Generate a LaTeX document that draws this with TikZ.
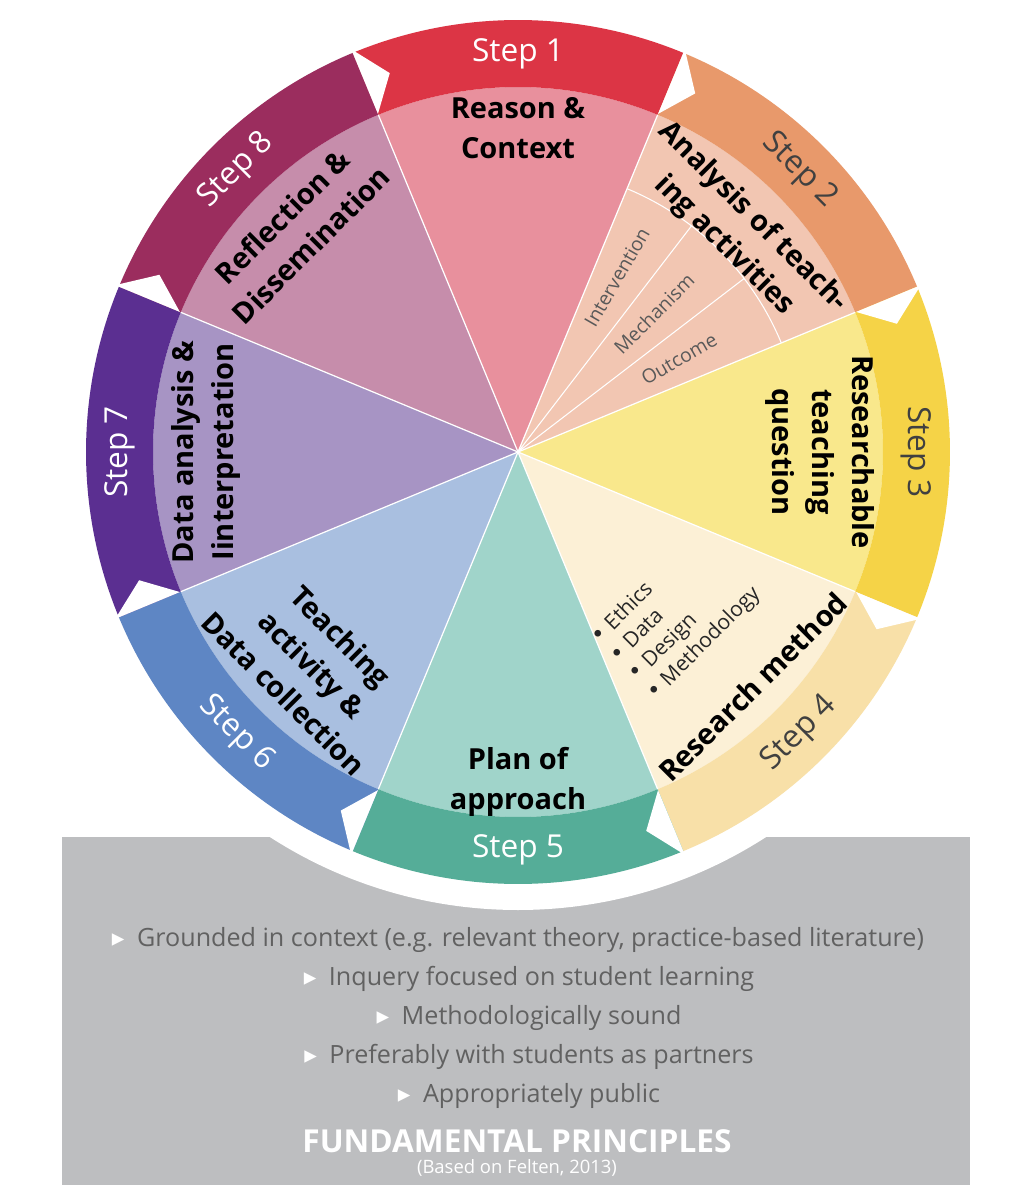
\documentclass[tikz,border=0pt]{standalone}
\usepackage{fontspec}
\setmainfont{Open Sans}
\newfontfamily\dejavu{DejaVu Sans}
\newcommand{\bul}{{\dejavu\fontsize{13}{15}\selectfont •}\ }
\begin{document}
\begin{tikzpicture}[x=0.02cm,y=0.02cm,
  inlab/.style={font=\bfseries\fontsize{16.5}{23}\selectfont, align=center, text=black, inner sep=0},
  steplab/.style={font=\fontsize{18}{20}\selectfont, inner sep=0},
  sublab/.style={font=\fontsize{11}{13}\selectfont, text=black!65, inner sep=0},
  bl/.style={font=\fontsize{14.3}{16}\selectfont, text=black!62, inner sep=0},
]
\definecolor{rA}{HTML}{DC3545}\definecolor{iA}{HTML}{E8909D}
\definecolor{rB}{HTML}{E8996B}\definecolor{iB}{HTML}{F2C6B2}
\definecolor{rC}{HTML}{F5D347}\definecolor{iC}{HTML}{F9E88C}
\definecolor{rD}{HTML}{F8E0A8}\definecolor{iD}{HTML}{FCF0D6}
\definecolor{rE}{HTML}{55AD98}\definecolor{iE}{HTML}{A0D4CA}
\definecolor{rF}{HTML}{5E86C4}\definecolor{iF}{HTML}{A9BFE0}
\definecolor{rG}{HTML}{5B2F91}\definecolor{iG}{HTML}{A794C4}
\definecolor{rH}{HTML}{9B2D5E}\definecolor{iH}{HTML}{C68DAB}
\definecolor{boxgray}{HTML}{BDBEC0}
\useasboundingbox (-518,452) rectangle (495,-748);
% gray box with circular cutout
\fill[boxgray] (-456,-385) rectangle (452,-733);
\fill[white] (0,0) circle (458);
% sectors
\foreach \k/\r/\i in {1/rA/iA,2/rB/iB,3/rC/iC,4/rD/iD,5/rE/iE,6/rF/iF,7/rG/iG,8/rH/iH}{
  \pgfmathsetmacro{\c}{90-45*(\k-1)}
  \pgfmathsetmacro{\a}{\c+22.5}
  \pgfmathsetmacro{\b}{\c-22.5}
  \fill[\i] (0,0) -- (\a:365) arc[start angle=\a,end angle=\b,radius=365] -- cycle;
  \fill[\r] (\a:365) arc[start angle=\a,end angle=\b,radius=365] -- (\b:432) arc[start angle=\b,end angle=\a,radius=432] -- cycle;
}
\foreach \k in {1,...,8}{
  \pgfmathsetmacro{\a}{112.5-45*(\k-1)}
  \draw[white, line width=0.7pt] (0,0) -- (\a:365);
  \fill[white] (\a:366) -- (\a:436) -- (\a-3.8:400) -- cycle;
}
% step 2 subdivisions
\draw[white, line width=0.6pt] (67.5:285) arc[start angle=67.5,end angle=22.5,radius=285];
\draw[white, line width=0.6pt] (0,0) -- (52.5:285) (0,0) -- (37.5:285);
% step labels
\node[steplab, text=white, rotate=0] (s1) at (90:398) {Step 1};
\node[steplab, text=black!75, rotate=-45] (s2) at (45:398) {Step 2};
\node[steplab, text=black!75, rotate=-90] (s3) at (0:398) {Step 3};
\node[steplab, text=black!75, rotate=45] (s4) at (-45:398) {Step 4};
\node[steplab, text=white, rotate=0] (s5) at (-90:398) {Step 5};
\node[steplab, text=white, rotate=-45] (s6) at (-135:398) {Step 6};
\node[steplab, text=white, rotate=90] (s7) at (180:398) {Step 7};
\node[steplab, text=white, rotate=45] (s8) at (135:398) {Step 8};
% inner labels
\node[inlab] (t1) at (90:324) {Reason \&\\Context};
\node[inlab, rotate=-45] (t2) at (45:312) {Analysis of teach-\\ing activities};
\node[inlab, rotate=-90] (t3) at (0:302) {Researchable\\teaching\\question};
\node[inlab, rotate=45] (t4) at (-45:332) {Research method};
\node[inlab] (t5) at (-90:330) {Plan of\\approach};
\node[inlab, rotate=-45] (t6) at (-134:296) {Teaching\\activity \&\\Data collection};
\node[inlab, rotate=90] (t7) at (180:312) {Data analysis \&\\Iinterpretation};
\node[inlab, rotate=45] (t8) at (135:313) {Reflection \&\\Dissemination};
% sub labels
\node[sublab, rotate=60] (u1) at (60.5:201) {Intervention};
\node[sublab, rotate=45] (u2) at (45.5:194) {Mechanism};
\node[sublab, rotate=30] (u3) at (30:186) {Outcome};
\node[font=\fontsize{12}{15}\selectfont, align=left, rotate=45, inner sep=0, text=black!85] (ul) at (-46:228)
  {\bul Ethics\\\bul Data\\\bul Design\\\bul Methodology};
% bottom texts
\node[bl] (b1) at (0,-488) {{\dejavu\color{white}▸}\enspace Grounded in context (e.g. relevant theory, practice-based literature)};
\node[bl] (b2) at (11,-527) {{\dejavu\color{white}▸}\enspace Inquery focused on student learning};
\node[bl] (b3) at (11,-566) {{\dejavu\color{white}▸}\enspace Methodologically sound};
\node[bl] (b4) at (11,-605) {{\dejavu\color{white}▸}\enspace Preferably with students as partners};
\node[bl] (b5) at (11,-644) {{\dejavu\color{white}▸}\enspace Appropriately public};
\node[font=\bfseries\fontsize{18}{20}\selectfont, text=white, inner sep=0] (fp) at (-1,-689) {FUNDAMENTAL PRINCIPLES};
\node[font=\fontsize{10.5}{12}\selectfont, text=white, inner sep=0] (bf) at (-1,-716) {(Based on Felten, 2013)};
\end{tikzpicture}
\end{document}
